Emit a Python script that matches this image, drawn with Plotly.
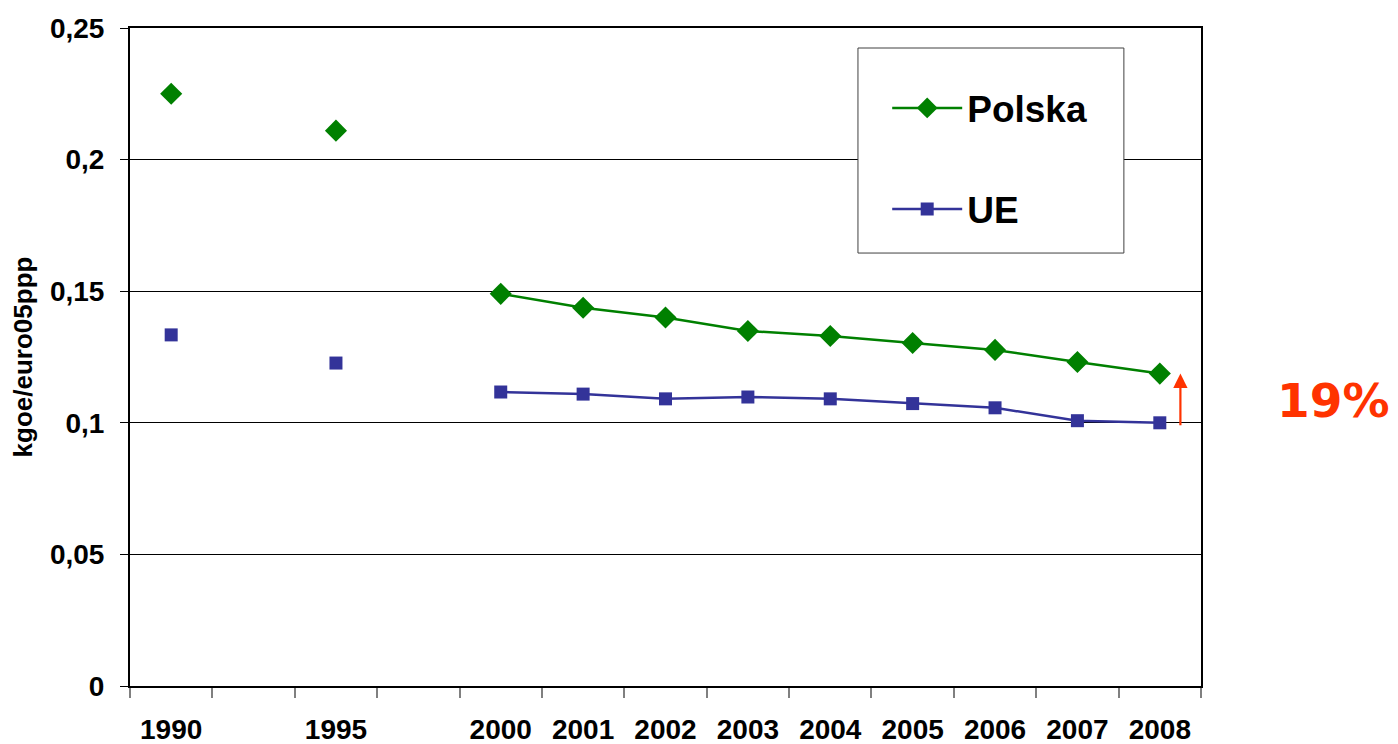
import plotly.graph_objects as go

categories = ["1990", " ", "1995", "  ", "2000", "2001", "2002", "2003", "2004", "2005", "2006", "2007", "2008"]
polska = [0.225, None, 0.211, None, 0.149, 0.1437, 0.140, 0.1349, 0.1330, 0.1303, 0.1277, 0.1231, 0.1187]
ue = [0.1334, None, 0.1227, None, 0.1117, 0.1109, 0.1091, 0.1098, 0.1091, 0.1073, 0.1057, 0.1008, 0.1000]
y_ticks = [0, 0.05, 0.1, 0.15, 0.2, 0.25]
y_ticktext = ["0", "0,05", "0,1", "0,15", "0,2", "0,25"]
diff_label = "19%"

fig = go.Figure()
fig.add_trace(go.Scatter(
    x=categories, y=polska, name="Polska", mode="lines+markers",
    line=dict(color="#008000", width=2.5),
    marker=dict(symbol="diamond", size=17, color="#008000"),
    connectgaps=False, legendgroup="a"))
fig.add_trace(go.Scatter(
    x=categories, y=ue, name="UE", mode="lines+markers",
    line=dict(color="#333399", width=2.5),
    marker=dict(symbol="square", size=13, color="#333399"),
    connectgaps=False, legendgroup="b"))

font_family = "Liberation Sans, Arial, sans-serif"

fig.update_layout(
    width=1398, height=744,
    margin=dict(l=130, r=197, t=28, b=58),
    paper_bgcolor="white", plot_bgcolor="white",
    font=dict(family=font_family, color="black"),
    showlegend=True,
    legend=dict(
        x=0.707, y=0.925, xanchor="left", yanchor="top",
        bgcolor="rgba(0,0,0,0)", borderwidth=0,
        font=dict(size=37, family=font_family, color="black", weight="bold"),
        traceorder="grouped", tracegroupgap=50, itemwidth=70,
    ),
    xaxis=dict(
        type="category", categoryorder="array", categoryarray=categories,
        showgrid=False, showline=True, linecolor="black", linewidth=1.5, mirror=True,
        ticks="outside", ticklen=10, tickcolor="#808080", tickwidth=1.5,
        tickson="boundaries", ticklabelstandoff=18, automargin=False,
        tickfont=dict(size=28, family=font_family, color="black", weight="bold"),
        range=[-0.5, 12.5],
    ),
    yaxis=dict(
        range=[0, 0.25], tickvals=y_ticks, ticktext=y_ticktext,
        showgrid=True, gridcolor="black", gridwidth=1,
        showline=True, linecolor="black", linewidth=2, mirror=True,
        ticks="outside", ticklen=8, tickcolor="black", ticklabelstandoff=10,
        automargin=False,
        tickfont=dict(size=28, family=font_family, color="black", weight="bold"),
        title=dict(text="kgoe/euro05ppp", standoff=10,
                   font=dict(size=26, family=font_family, color="black", weight="bold")),
        zeroline=False,
    ),
    shapes=[dict(
        type="rect", xref="paper", yref="paper",
        x0=0.6797, x1=0.928, y0=0.658, y1=0.9696,
        line=dict(color="#404040", width=1), fillcolor="white", layer="above")],
)

# arrow from UE 2008 value up to Polska 2008 value
fig.add_annotation(
    x=12.25, y=polska[-1], xref="x", yref="y",
    ax=12.25, ay=ue[-1] - 0.0015, axref="x", ayref="y",
    showarrow=True, arrowhead=2, arrowsize=1.3, arrowwidth=2.2,
    arrowcolor="#ff3300", text="")

fig.add_annotation(
    x=1.124, y=0.1083, xref="paper", yref="y", text=diff_label,
    showarrow=False, xanchor="center", yanchor="middle",
    font=dict(size=47, family="DejaVu Sans, Verdana, sans-serif", color="#ff3300", weight="bold"))

fig.write_html(
    "out.html",
    config={"displayModeBar": False},
    post_script="document.body.style.margin='0';document.body.style.overflow='hidden';",
)
